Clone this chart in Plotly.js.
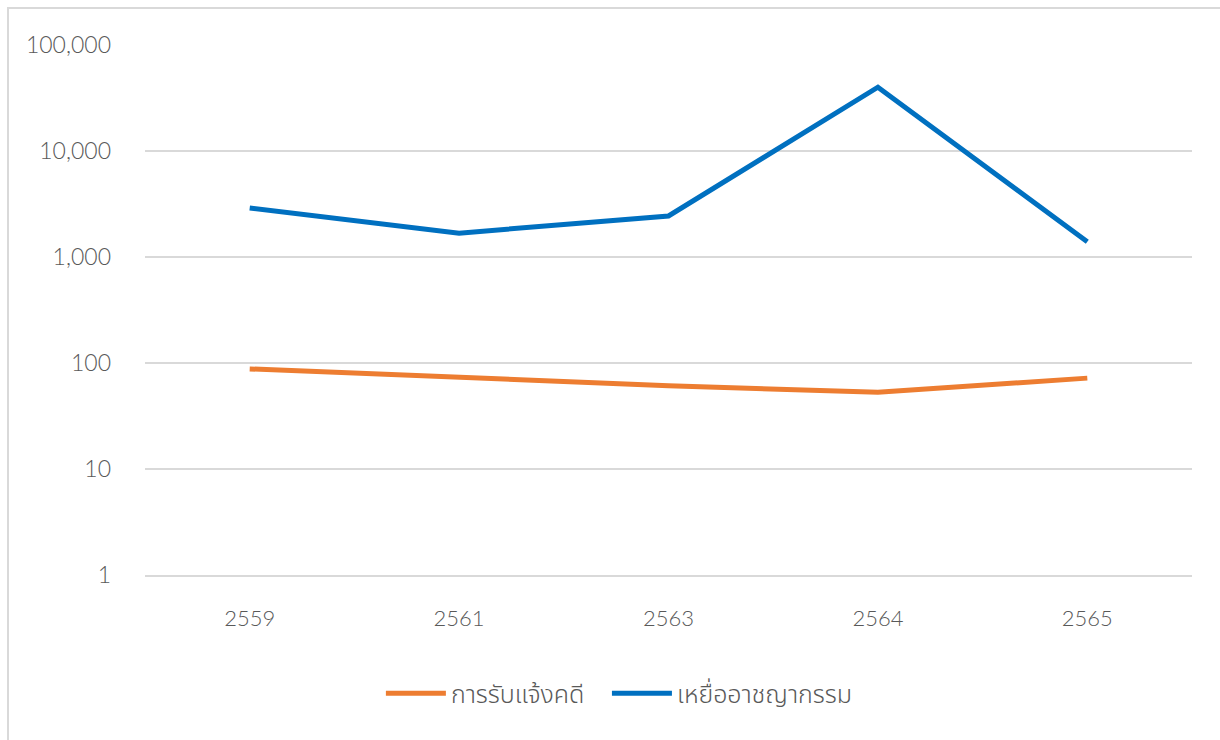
<!DOCTYPE html>
<html>
<head>
<meta charset="utf-8">
<script src="https://cdn.plot.ly/plotly-3.0.1.min.js"></script>
<style>
html,body{margin:0;padding:0;background:#fff;}
#frame{position:absolute;left:7px;top:7px;width:1240px;height:760px;border-left:2px solid #d9d9d9;border-top:2px solid #d9d9d9;box-sizing:border-box;}
#chart{position:absolute;left:0;top:0;width:1220px;height:740px;}
</style>
</head>
<body>
<div id="frame"></div>
<div id="chart"></div>
<script>
const years = ["2559", "2561", "2563", "2564", "2565"];
const reports = [88, 74, 61, 53, 72];
const victims = [2900, 1680, 2440, 40000, 1390];
const yTickVals = [1, 10, 100, 1000, 10000, 100000];
const yTickText = ["1", "10", "100", "1,000", "10,000", "100,000"];

const fontFam = "Lato, 'Noto Sans', 'Noto Sans Thai', sans-serif";

const traces = [
  {x: years, y: reports, name: "การรับแจ้งคดี", type: "scatter", mode: "lines",
   line: {color: "#ED7D31", width: 5}, legend: "legend"},
  {x: years, y: victims, name: "เหยื่ออาชญากรรม", type: "scatter", mode: "lines",
   line: {color: "#0070C0", width: 5}, legend: "legend2"}
];

const legendBase = {orientation: "h", xanchor: "left", y: -0.18, yanchor: "top",
  font: {size: 25, color: "#595959", weight: 300}, itemwidth: 60, bgcolor: "rgba(0,0,0,0)"};

const layout = {
  width: 1220, height: 740,
  margin: {l: 145, r: 28, t: 45, b: 165},
  paper_bgcolor: "rgba(0,0,0,0)",
  plot_bgcolor: "rgba(0,0,0,0)",
  font: {family: fontFam, color: "#595959", size: 22, weight: 300},
  xaxis: {type: "category", range: [-0.5, 4.5], showgrid: false, zeroline: false,
          showline: true, linecolor: "#d9d9d9", linewidth: 1.5, ticks: "", ticklabelstandoff: 23,
          tickfont: {size: 22, color: "#595959", weight: 300}},
  yaxis: {type: "log", range: [0, 5], tickvals: yTickVals, ticktext: yTickText,
          showgrid: true, gridcolor: "#d9d9d9", gridwidth: 1.5, zeroline: false,
          showline: false, ticks: "", ticklabelstandoff: 33,
          tickfont: {size: 23, color: "#595959", weight: 300}},
  showlegend: true,
  legend: Object.assign({}, legendBase, {x: 0.2253}),
  legend2: Object.assign({}, legendBase, {x: 0.4412})
};

Plotly.newPlot("chart", traces, layout, {displayModeBar: false, staticPlot: true});
</script>
</body>
</html>
